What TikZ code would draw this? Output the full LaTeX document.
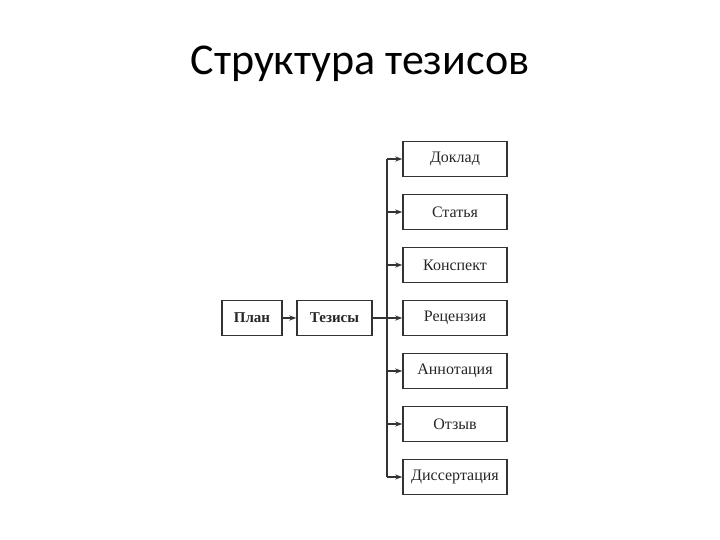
\documentclass[tikz,border=0pt]{standalone}
\usepackage{fontspec}
\setmainfont{Liberation Serif}
\newfontfamily\titlefont{Carlito}
\usetikzlibrary{arrows.meta,positioning}

\begin{document}
\begin{tikzpicture}[
  x=1pt,y=-1pt,
  every node/.style={font=\fontsize{16}{18}\selectfont},
  box/.style={rectangle,draw=black!80,line width=1.4pt,minimum height=35pt,inner sep=0pt,text=black!85},
  item/.style={box,minimum width=104pt},
  link/.style={draw=black!80,line width=1.2pt,-{Stealth[length=7pt,width=5pt]}},
]
\useasboundingbox (0,0) rectangle (720,540);
\node[font=\titlefont\fontsize{44}{50}\selectfont] (title) at (360,64) {Структура тезисов};

\node[box,minimum width=60pt,font=\bfseries\fontsize{15}{18}\selectfont] (plan) at (252,318) {План};
\node[box,minimum width=75pt,font=\bfseries\fontsize{15}{18}\selectfont] (tez) at (334.5,318) {Тезисы};

\node[item] (dokl) at (455,159) {Доклад};
\node[item] (stat) at (455,212) {Статья};
\node[item] (kons) at (455,265) {Конспект};
\node[item] (rec) at (455,318) {Рецензия};
\node[item] (ann) at (455,371) {Аннотация};
\node[item] (otz) at (455,424) {Отзыв};
\node[item] (diss) at (455,477) {Диссертация};

\coordinate (spine) at (387,318);
\draw[link] (plan) -- (tez);
\draw[link] (tez) -- (rec);
\draw[draw=black!80,line width=1.2pt] (spine |- dokl.west) -- (spine |- diss.west);
\foreach \b in {dokl,stat,kons,ann,otz,diss}
  \draw[link] (spine |- \b.west) -- (\b.west);
\end{tikzpicture}
\end{document}
